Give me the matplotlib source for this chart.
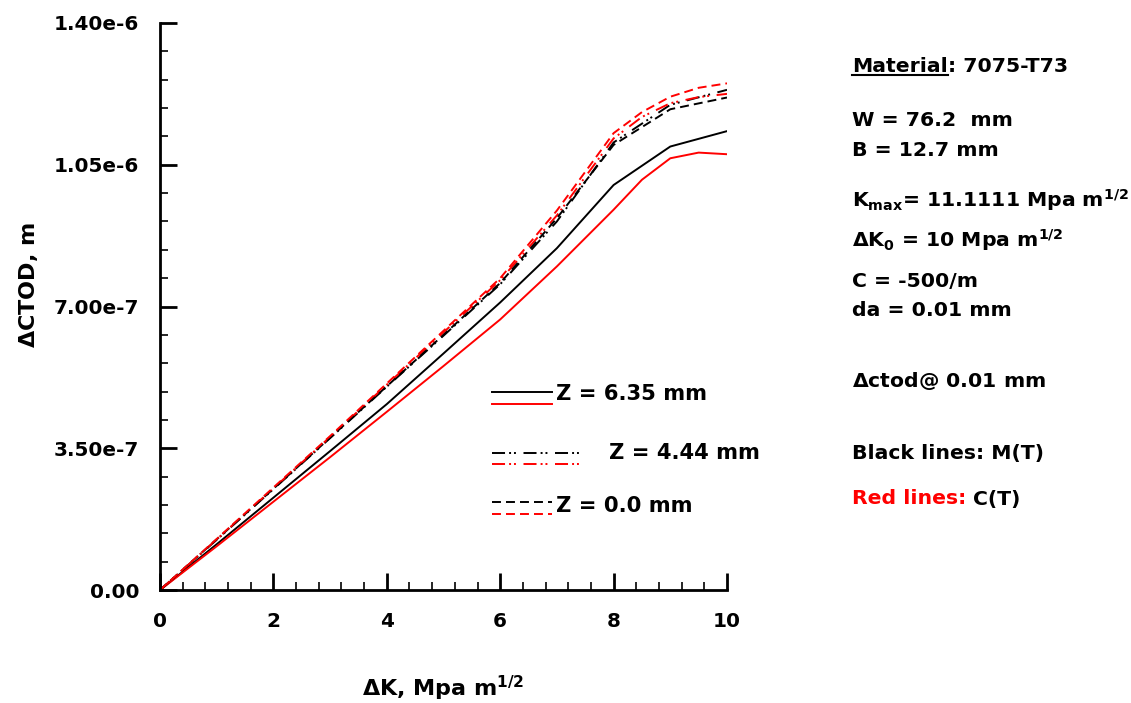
import matplotlib
matplotlib.use("Agg")
import matplotlib.pyplot as plt
from matplotlib.lines import Line2D
from matplotlib.ticker import FixedLocator, FixedFormatter, MultipleLocator

plt.rcParams['font.family'] = ['DejaVu Sans']
plt.rcParams['font.weight'] = 'bold'
plt.rcParams['mathtext.fontset'] = 'dejavusans'
plt.rcParams['mathtext.default'] = 'bf'

# ---- data (ΔCTOD in units of 1e-6 m) ----
dk_black = [0, 1, 2, 3, 4, 5, 6, 7, 8, 9, 10]
dk_red = [0, 1, 2, 3, 4, 5, 6, 7, 8, 8.5, 9, 9.5, 10]

mt_z635 = [0, 0.113, 0.228, 0.343, 0.459, 0.584, 0.710, 0.844, 1.000, 1.095, 1.133]
mt_z444 = [0, 0.124, 0.249, 0.375, 0.502, 0.628, 0.755, 0.910, 1.105, 1.198, 1.235]
mt_z000 = [0, 0.125, 0.250, 0.376, 0.503, 0.630, 0.758, 0.918, 1.099, 1.187, 1.216]

ct_z635 = [0, 0.108, 0.218, 0.328, 0.440, 0.553, 0.668, 0.799, 0.939, 1.013, 1.066, 1.080, 1.076]
ct_z444 = [0, 0.125, 0.251, 0.378, 0.507, 0.636, 0.765, 0.925, 1.115, 1.168, 1.202, 1.217, 1.225]
ct_z000 = [0, 0.126, 0.253, 0.380, 0.510, 0.640, 0.770, 0.937, 1.128, 1.180, 1.218, 1.240, 1.251]

y_ticks = [0, 0.35e-6, 0.70e-6, 1.05e-6, 1.40e-6]
y_tick_labels = ['0.00', '3.50e-7', '7.00e-7', '1.05e-6', '1.40e-6']
x_ticks = [0, 2, 4, 6, 8, 10]
x_tick_labels = ['0', '2', '4', '6', '8', '10']

legend_labels = ['Z = 6.35 mm', 'Z = 4.44 mm', 'Z = 0.0 mm']

W, H = 1131, 703
fig = plt.figure(figsize=(W / 100, H / 100), dpi=100)
ax = fig.add_axes([160 / W, 1 - 590 / H, (727 - 160) / W, (590 - 23) / H])

lw = 1.4
dashdotdot = (0, (6.7, 2.1, 1.0, 1.5, 1.0, 3.9))
dashed = (0, (4.6, 2.6))

def s(v):
    return [x * 1e-6 for x in v]

ax.plot(dk_black, s(mt_z635), color='black', lw=lw, ls='-')
ax.plot(dk_red, s(ct_z635), color='red', lw=lw, ls='-')
ax.plot(dk_black, s(mt_z444), color='black', lw=lw, ls=dashdotdot)
ax.plot(dk_red, s(ct_z444), color='red', lw=lw, ls=dashdotdot)
ax.plot(dk_black, s(mt_z000), color='black', lw=lw, ls=dashed)
ax.plot(dk_red, s(ct_z000), color='red', lw=lw, ls=dashed)

ax.set_xlim(0, 10)
ax.set_ylim(0, 1.40e-6)
ax.spines['top'].set_visible(False)
ax.spines['right'].set_visible(False)
for sp in ('left', 'bottom'):
    ax.spines[sp].set_linewidth(2)
ax.xaxis.set_major_locator(FixedLocator(x_ticks))
ax.xaxis.set_major_formatter(FixedFormatter(x_tick_labels))
ax.yaxis.set_major_locator(FixedLocator(y_ticks))
ax.yaxis.set_major_formatter(FixedFormatter(y_tick_labels))
ax.xaxis.set_minor_locator(MultipleLocator(0.4))
ax.yaxis.set_minor_locator(MultipleLocator(0.07e-6))
ax.tick_params(which='major', direction='in', length=12, width=2, labelsize=14.4)
ax.tick_params(axis='x', which='major', pad=15.5)
ax.tick_params(axis='y', which='major', pad=15)
ax.tick_params(which='minor', direction='in', length=6, width=1.2)
for lab in ax.get_xticklabels() + ax.get_yticklabels():
    lab.set_fontweight('bold')

fig.text(443 / W, 1 - 688 / H, r'$\Delta$K, Mpa m$^{1/2}$', ha='center', va='center', fontsize=16, fontweight='bold')
fig.text(28 / W, 1 - 285 / H, r'$\Delta$CTOD, m', ha='center', va='center', rotation=90, fontsize=16, fontweight='bold')

# legend drawn manually
def seg(x0, x1, y, **kw):
    fig.add_artist(Line2D([x0 / W, x1 / W], [1 - y / H, 1 - y / H], transform=fig.transFigure, **kw))

seg(492, 552, 392, color='black', lw=lw, ls='-')
seg(492, 552, 404, color='red', lw=lw, ls='-')
seg(492, 582, 453, color='black', lw=lw, ls=dashdotdot)
seg(492, 582, 464, color='red', lw=lw, ls=dashdotdot)
seg(492, 552, 502, color='black', lw=lw, ls=dashed)
seg(492, 552, 514, color='red', lw=lw, ls=dashed)
fs_leg = 15.2
fig.text(556 / W, 1 - 394 / H, legend_labels[0], ha='left', va='center', fontsize=fs_leg, fontweight='bold')
fig.text(609 / W, 1 - 453 / H, legend_labels[1], ha='left', va='center', fontsize=fs_leg, fontweight='bold')
fig.text(556 / W, 1 - 506 / H, legend_labels[2], ha='left', va='center', fontsize=fs_leg, fontweight='bold')

# right-side annotation
fs = 14.7
tx = 852 / W
mat = fig.text(tx, 1 - 66 / H, 'Material', ha='left', va='center', fontsize=fs, fontweight='bold')
fig.canvas.draw()
r = fig.canvas.get_renderer()
bb = mat.get_window_extent(r)
fig.add_artist(Line2D([bb.x0 / W, bb.x1 / W], [(bb.y0 + 1) / H, (bb.y0 + 1) / H], transform=fig.transFigure, color='black', lw=1.5))
fig.text(bb.x1 / W, 1 - 66 / H, ': 7075-T73', ha='left', va='center', fontsize=fs, fontweight='bold')

fig.text(tx, 1 - 120 / H, 'W = 76.2  mm', ha='left', va='center', fontsize=fs, fontweight='bold')
fig.text(tx, 1 - 150 / H, 'B = 12.7 mm', ha='left', va='center', fontsize=fs, fontweight='bold')
fig.text(tx, 1 - 200 / H, r'K$_{max}$= 11.1111 Mpa m$^{1/2}$', ha='left', va='center', fontsize=fs, fontweight='bold')
fig.text(tx, 1 - 240 / H, r'$\Delta$K$_{0}$ = 10 Mpa m$^{1/2}$', ha='left', va='center', fontsize=fs, fontweight='bold')
fig.text(tx, 1 - 281 / H, 'C = -500/m', ha='left', va='center', fontsize=fs, fontweight='bold')
fig.text(tx, 1 - 311 / H, 'da = 0.01 mm', ha='left', va='center', fontsize=fs, fontweight='bold')
fig.text(tx, 1 - 381 / H, r'$\Delta$ctod@ 0.01 mm', ha='left', va='center', fontsize=fs, fontweight='bold')
fig.text(tx, 1 - 453 / H, 'Black lines: M(T)', ha='left', va='center', fontsize=fs, fontweight='bold')
rl = fig.text(tx, 1 - 499 / H, 'Red lines: ', ha='left', va='center', fontsize=fs, fontweight='bold', color='red')
fig.canvas.draw()
bb2 = rl.get_window_extent(fig.canvas.get_renderer())
fig.text(bb2.x1 / W, 1 - 499 / H, 'C(T)', ha='left', va='center', fontsize=fs, fontweight='bold')

fig.savefig('out.png', dpi=100)
